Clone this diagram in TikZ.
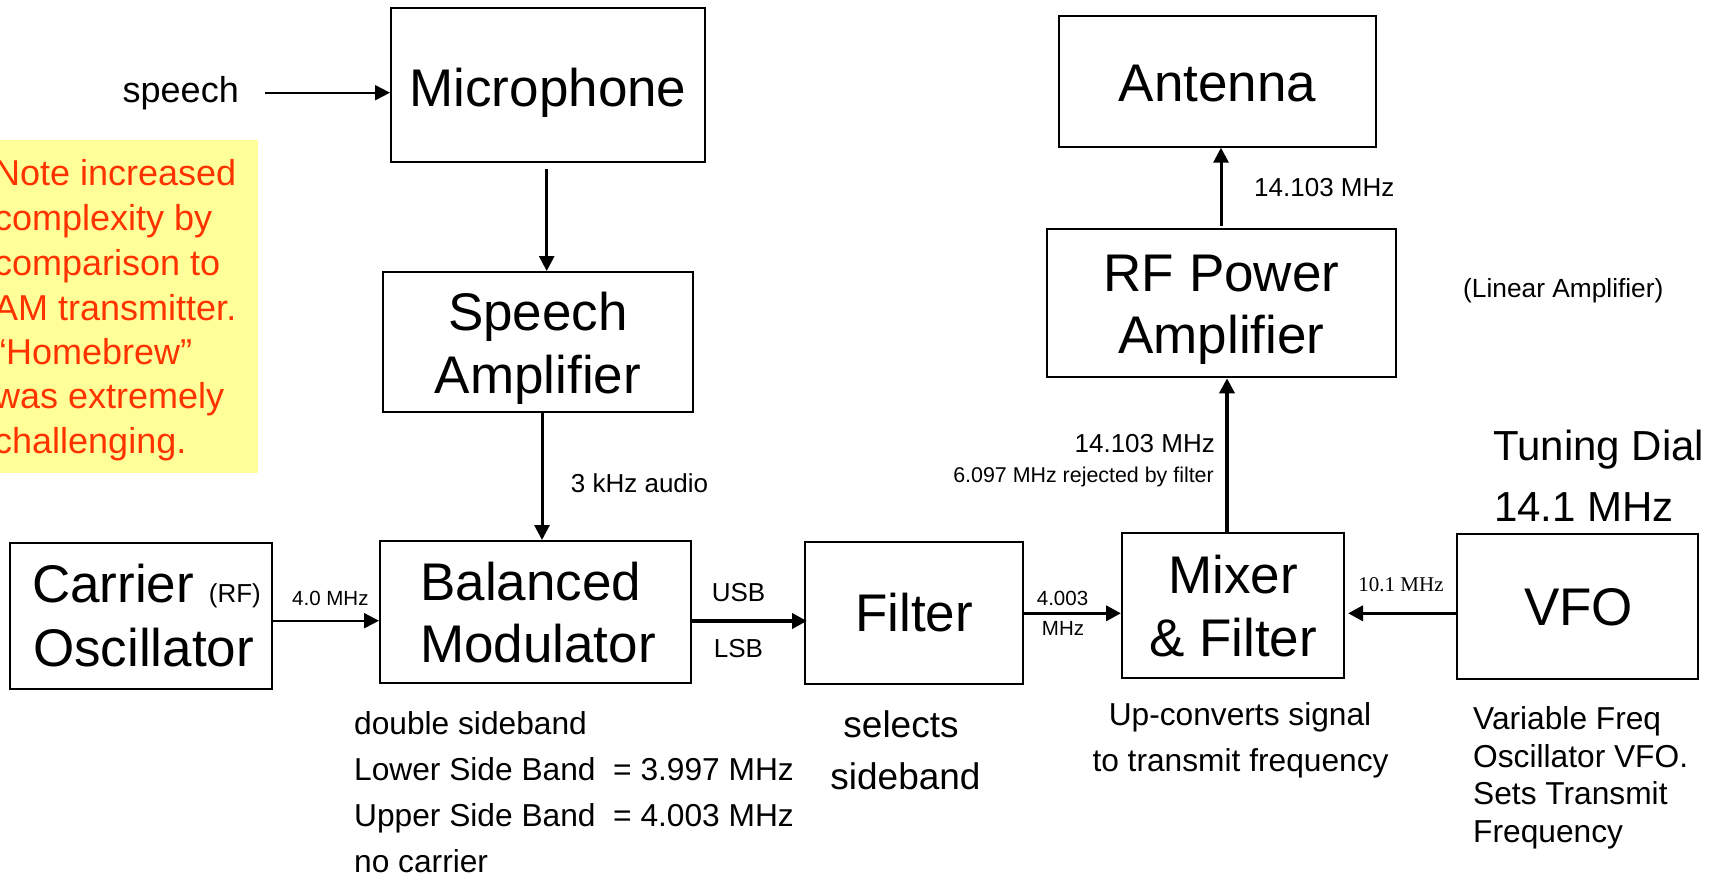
\documentclass[tikz,border=0pt]{standalone}
\usepackage{fontspec}
\setmainfont{Liberation Sans}
\newfontfamily\seriffont{Liberation Serif}
\usetikzlibrary{arrows.meta,calc}
\definecolor{notefill}{RGB}{255,255,153}
\definecolor{notetext}{RGB}{255,51,0}

\begin{document}
\begin{tikzpicture}[x=1pt,y=-1pt,
  >={Triangle[length=15pt,width=15pt]},
  block/.style={draw, line width=2pt, fill=white, inner sep=0pt},
  title/.style={font=\fontsize{53}{63}\selectfont, inner sep=0pt},
  lab/.style={font=\fontsize{26}{30}\selectfont, inner sep=0pt},
  tinylab/.style={font=\fontsize{20.5}{24}\selectfont, inner sep=0pt},
  rejlab/.style={font=\fontsize{21.4}{25}\selectfont, inner sep=0pt},
  linlab/.style={font=\fontsize{26.3}{30}\selectfont, inner sep=0pt},
  seriflab/.style={font=\seriffont\fontsize{21}{24}\selectfont, inner sep=0pt},
  desc/.style={font=\fontsize{31.7}{36}\selectfont, inner sep=0pt},
  sel/.style={font=\fontsize{37}{42}\selectfont, inner sep=0pt},
  tune/.style={font=\fontsize{42}{48}\selectfont, inner sep=0pt},
  spch/.style={font=\fontsize{36}{40}\selectfont, inner sep=0pt},
  notef/.style={font=\fontsize{36}{40}\selectfont, text=notetext, inner sep=0pt, anchor=base west},
  link/.style={->, line width=3pt},
  thinlink/.style={->, line width=2pt},
  heavylink/.style={->, line width=3.6pt}]

\useasboundingbox (0,0) rectangle (1721,875);

% yellow note panel (runs off the left edge of the page)
\node[fill=notefill, inner sep=0pt, minimum width=268pt, minimum height=332.7pt] (note) at (124,306.35) {};
\node[notef] (n1) at (-6,185) {Note increased};
\node[notef] (n2) at (-6,230) {complexity by};
\node[notef] (n3) at (-6,275) {comparison to};
\node[notef] (n4) at (-6,320) {AM transmitter.};
\node[notef] (n5) at (-6,364) {“Homebrew”};
\node[notef] (n6) at (-6,408) {was extremely};
\node[notef] (n7) at (-6,453) {challenging.};

% blocks
\node[block, minimum width=314pt, minimum height=154pt] (mic) at (548,85) {};
\node[block, minimum width=310pt, minimum height=139.7pt] (amp) at (538,341.85) {};
\node[block, minimum width=261.5pt, minimum height=146pt] (carrier) at (140.75,615.7) {};
\node[block, minimum width=310.5pt, minimum height=141.7pt] (balmod) at (535.25,611.85) {};
\node[block, minimum width=218pt, minimum height=142.3pt] (filter) at (914,612.85) {};
\node[block, minimum width=222pt, minimum height=145.3pt] (mixer) at (1233,605.35) {};
\node[block, minimum width=349pt, minimum height=148.6pt] (rfpa) at (1221.5,303) {};
\node[block, minimum width=317pt, minimum height=130.7pt] (antenna) at (1217.5,81.35) {};
\node[block, minimum width=241pt, minimum height=145.3pt] (vfo) at (1577.5,606.65) {};

% block titles
\node[title, anchor=base] (mic-t) at (548,106) {Microphone};
\node[title, anchor=base] (amp-t1) at (538,330) {Speech};
\node[title, anchor=base] (amp-t2) at (538,393) {Amplifier};
\node[title, anchor=base west] (car-t1) at (32,602.7) {Carrier {\fontsize{26}{30}\selectfont(RF)}};
\node[title, anchor=base west] (car-t2) at (33,666.7) {Oscillator};
\node[title, anchor=base west] (bal-t1) at (420,600) {Balanced};
\node[title, anchor=base west] (bal-t2) at (420,662.7) {Modulator};
\node[title, anchor=base] (fil-t) at (914,631.7) {Filter};
\node[title, anchor=base] (mix-t1) at (1233,593) {Mixer};
\node[title, anchor=base] (mix-t2) at (1233,656.7) {\& Filter};
\node[title, anchor=base] (vfo-t) at (1578.5,625.7) {VFO};
\node[title, anchor=base] (ant-t) at (1217.5,101) {Antenna};
\node[title, anchor=base] (rf-t1) at (1221.5,291) {RF Power};
\node[title, anchor=base] (rf-t2) at (1221.5,353.5) {Amplifier};

% signal labels
\node[spch, anchor=base east] (speech) at (239,102) {speech};
\node[lab, anchor=base west] (audio) at (570.7,492) {3 kHz audio};
\node[tinylab, anchor=base west] (rf40) at (292,605.5) {4.0 MHz};
\node[lab, anchor=base] (usb) at (738.5,601) {USB};
\node[lab, anchor=base] (lsb) at (738.5,657) {LSB};
\node[tinylab, anchor=base] (if1) at (1062.5,605.7) {4.003};
\node[tinylab, anchor=base] (if2) at (1063,635) {MHz};
\node[seriflab, anchor=base] (lo) at (1401,591) {10.1 MHz};
\node[lab, anchor=base west] (out1) at (1254,196) {14.103 MHz};
\node[linlab, anchor=base west] (linear) at (1463,297) {(Linear Amplifier)};
\node[lab, anchor=base east] (out2) at (1215,452.5) {14.103 MHz};
\node[rejlab, anchor=base east] (rej) at (1214,482.5) {6.097 MHz rejected by filter};
\node[tune, anchor=base west] (dial1) at (1493,460) {Tuning Dial};
\node[tune, anchor=base west] (dial2) at (1494,521) {14.1 MHz};

% descriptions under the blocks
\node[desc, anchor=base west] (d1) at (354,734) {double sideband};
\node[desc, anchor=base west] (d2) at (354,780) {Lower Side Band\ \ = 3.997 MHz};
\node[desc, anchor=base west] (d3) at (354,826) {Upper Side Band\ \ = 4.003 MHz};
\node[desc, anchor=base west] (d4) at (354,872) {no carrier};
\node[sel, anchor=base] (s1) at (901,737) {selects};
\node[sel, anchor=base] (s2) at (905.5,789) {sideband};
\node[desc, anchor=base] (u1) at (1240,725) {Up-converts signal};
\node[desc, anchor=base] (u2) at (1240.5,771) {to transmit frequency};
\node[desc, anchor=base west] (v1) at (1473,729.5) {Variable Freq};
\node[desc, anchor=base west] (v2) at (1473,767) {Oscillator VFO.};
\node[desc, anchor=base west] (v3) at (1473,804.5) {Sets Transmit};
\node[desc, anchor=base west] (v4) at (1473,842.5) {Frequency};

% connectors
\draw[thinlink] ($(speech.east)+(26,0)$) -- (mic.west |- speech.east);
\draw[link] ($(mic.south)+(-1.3,6)$) -- ($(amp.north -| mic.south)+(-1.3,0)$);
\draw[link] (amp.south -| 542,0) -- (balmod.north -| 542,0);
\draw[thinlink] (carrier.east |- 0,620.7) -- (balmod.west |- 0,620.7);
\draw[heavylink] (balmod.east |- 0,621) -- ($(filter.west |- 0,621)+(3,0)$);
\draw[heavylink] (filter.east |- 0,613.3) -- (mixer.west |- 0,613.3);
\draw[heavylink] (vfo.west |- 0,613.3) -- ($(mixer.east |- 0,613.3)+(3,0)$);
\draw[heavylink] (mixer.north -| 1227,0) -- (rfpa.south -| 1227,0);
\draw[link] ($(rfpa.north -| 1221,0)+(0,-2)$) -- (antenna.south -| 1221,0);

\end{tikzpicture}
\end{document}
